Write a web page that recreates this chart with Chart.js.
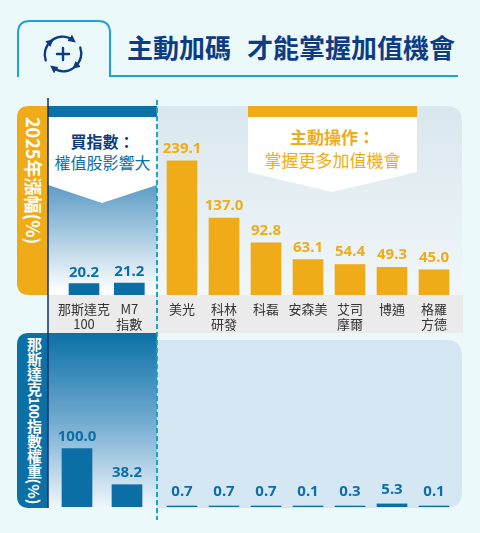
<!DOCTYPE html>
<html>
<head>
<meta charset="utf-8">
<script src="https://cdn.jsdelivr.net/npm/chart.js@4.4.1/dist/chart.umd.min.js"></script>
<style>
  html, body { margin: 0; padding: 0; }
  body { width: 480px; height: 533px; position: relative; overflow: hidden; background: #ecf9fa;
         font-family: "Noto Sans CJK TC", "Noto Sans", sans-serif; }
  .abs { position: absolute; }
  .box { position: absolute; }
  #title { left: 127px; top: 32px; font-size: 26px; font-weight: bold; color: #0d3c84; line-height: 30px; white-space: nowrap; }
  #title span + span { margin-left: 16px; }
  .note { text-align: center; line-height: 21px; white-space: nowrap; }
  #noteL { left: 48px; width: 109px; top: 131px; color: #0b6fa5; font-size: 16px; }
  #noteR { left: 248px; width: 169px; top: 125px; color: #f0ac18; font-size: 17px; line-height: 23px; }
  .note b { display: block; }
  #ylabTop { left: 44px; top: 117px; color: #fff; font-weight: bold; font-size: 18px; white-space: nowrap;
             transform-origin: 0 0; transform: rotate(90deg); line-height: 20px; }
  #ylabBot { left: 24px; top: 337px; color: #fff; font-weight: bold; font-size: 15px; line-height: 20px;
             writing-mode: vertical-rl; text-orientation: mixed; white-space: nowrap; }
  #ylabBot i { font-style: normal; font-size: 13px; letter-spacing: -0.5px; }
</style>
</head>
<body>
<svg class="abs" style="left:0;top:0" width="480" height="533" viewBox="0 0 480 533">
  <defs>
    <linearGradient id="gTopL" gradientUnits="userSpaceOnUse" x1="0" y1="180" x2="0" y2="292">
      <stop offset="0" stop-color="#5597c3"/>
      <stop offset="1" stop-color="#ffffff"/>
    </linearGradient>
    <linearGradient id="gTopR" x1="0" y1="0" x2="0" y2="1">
      <stop offset="0" stop-color="#d9e7ee"/>
      <stop offset="1" stop-color="#f1f7f9"/>
    </linearGradient>
    <linearGradient id="gBotL" gradientUnits="userSpaceOnUse" x1="0" y1="333" x2="0" y2="510">
      <stop offset="0" stop-color="#0b70a6"/>
      <stop offset="0.5" stop-color="#72abd0"/>
      <stop offset="1" stop-color="#f4f8fb"/>
    </linearGradient>
    <marker id="arr" viewBox="0 0 10 10" refX="5" refY="5" markerWidth="3.2" markerHeight="3.2" orient="auto">
      <path d="M0,0 L10,5 L0,10 Z" fill="#0d3c84"/>
    </marker>
  </defs>
  <!-- header tab -->
  <path d="M18,77 V33 Q18,21 30,21 H98 Q110,21 110,33 V76 H458" fill="none" stroke="#1ea0d9" stroke-width="2"/>
  <g fill="none" stroke="#0d3c84" stroke-width="2.4" stroke-linecap="round">
    <path d="M49.6,42.7 A17,17 0 0 1 72.8,40.1" marker-end="url(#arr)"/>
    <path d="M80.3,47.6 A17,17 0 0 1 75.3,66.3" marker-end="url(#arr)"/>
    <path d="M76.4,65.3 A17,17 0 0 1 53.2,67.9" marker-end="url(#arr)"/>
    <path d="M45.7,60.4 A17,17 0 0 1 50.7,41.7" marker-end="url(#arr)"/>
    <path d="M63,48 V60 M57,54 H69"/>
  </g>
  <!-- top row -->
  <path d="M48,106 H29 Q17,106 17,118 V283 Q17,295 29,295 H48 Z" fill="#f0ac18"/>
  <rect x="48" y="106" width="109" height="11" fill="#0b72a8"/>
  <rect x="48" y="117" width="109" height="178" fill="url(#gTopL)"/>
  <polygon points="48,117 157,117 157,185 102,203 48,185" fill="#ffffff"/>
  <path d="M157,106 H446 Q462,106 462,122 V295 H157 Z" fill="url(#gTopR)"/>
  <rect x="248" y="106" width="169" height="11" fill="#f0ac18"/>
  <polygon points="248,117 417,117 417,172 332,192 248,172" fill="#ffffff"/>
  <rect x="48" y="295" width="415" height="38" fill="#ebebeb"/>
  <!-- bottom row -->
  <path d="M48,333 H29 Q17,333 17,345 V496 Q17,508 29,508 H48 Z" fill="#0a70a6"/>
  <rect x="48" y="333" width="109" height="175" fill="url(#gBotL)"/>
  <path d="M157,340 H446 Q462,340 462,356 V492 Q462,508 446,508 H157 Z" fill="#d6e7f4"/>
  <!-- dividers -->
  <line x1="48" y1="98" x2="48" y2="508" stroke="#0d2f6b" stroke-width="1.5"/>
  <line x1="157" y1="100" x2="157" y2="520" stroke="#1ea0d9" stroke-width="2" stroke-dasharray="5,3"/>
</svg>

<div id="title" class="abs"><span>主動加碼</span><span>才能掌握加值機會</span></div>
<div id="ylabTop" class="abs">2025年漲幅(%)</div>
<div id="ylabBot" class="abs">那斯達克<i>100</i>指數權重(%)</div>
<div id="noteL" class="abs note"><b style="color:#0d3c84">買指數：</b>權值股影響大</div>
<div id="noteR" class="abs note"><b>主動操作：</b>掌握更多加值機會</div>

<div class="box" style="left:52px;top:106px;width:100px;height:227px"><canvas id="topL"></canvas></div>
<div class="box" style="left:161px;top:106px;width:294px;height:227px"><canvas id="topR"></canvas></div>
<div class="box" style="left:52px;top:340px;width:100px;height:167px"><canvas id="botL"></canvas></div>
<div class="box" style="left:161px;top:340px;width:294px;height:167px"><canvas id="botR"></canvas></div>

<script>
// index group (left) and active picks (right)
const indexNames = [['那斯達克', '100'], ['M7', '指數']];
const stockNames = ['美光', ['科林', '研發'], '科磊', '安森美', ['艾司', '摩爾'], '博通', ['格羅', '方德']];

// 2025 gains (%)
const indexGain = [20.2, 21.2];
const stockGain = [239.1, 137.0, 92.8, 63.1, 54.4, 49.3, 45.0];

// weight in Nasdaq 100 (%)
const indexWeight = [100.0, 38.2];
const stockWeight = [0.7, 0.7, 0.7, 0.1, 0.3, 5.3, 0.1];

const ORANGE = '#f0ac18';
const BLUE = '#0b6fa6';

const valueLabels = {
  id: 'valueLabels',
  afterDatasetsDraw(chart, args, opts) {
    const ctx = chart.ctx;
    const meta = chart.getDatasetMeta(0);
    const vals = chart.data.datasets[0].data;
    ctx.save();
    ctx.font = 'bold 15px "Noto Sans", sans-serif';
    ctx.fillStyle = opts.color;
    ctx.textAlign = 'center';
    ctx.textBaseline = 'alphabetic';
    meta.data.forEach(function (bar, i) {
      ctx.fillText(vals[i].toFixed(1), bar.x, bar.y - opts.gap);
    });
    ctx.restore();
  }
};

function makeBars(id, labels, values, color, yMax, showX, labelColor, gap) {
  const xScale = {
    display: showX,
    grid: { display: false, drawTicks: false },
    border: { display: false },
    ticks: {
      color: '#333333', padding: 6, autoSkip: false, maxRotation: 0,
      font: { family: '"Noto Sans CJK TC", sans-serif', size: 13, lineHeight: 1.18 }
    }
  };
  if (showX) xScale.afterFit = function (s) { s.height = 38; };

  new Chart(document.getElementById(id), {
    type: 'bar',
    data: {
      labels: labels,
      datasets: [{ data: values, backgroundColor: color, barThickness: 30, minBarLength: 1 }]
    },
    plugins: [valueLabels],
    options: {
      responsive: true,
      maintainAspectRatio: false,
      animation: false,
      layout: { padding: 0 },
      plugins: {
        legend: { display: false },
        tooltip: { enabled: false },
        valueLabels: { color: labelColor, gap: gap }
      },
      scales: {
        x: xScale,
        y: { display: false, min: 0, max: yMax }
      }
    }
  });
}

makeBars('topL', indexNames, indexGain, BLUE, 337, true, BLUE, 7);
makeBars('topR', stockNames, stockGain, ORANGE, 337, true, ORANGE, 8);
makeBars('botL', indexNames, indexWeight, BLUE, 286, false, BLUE, 8);
makeBars('botR', stockNames, stockWeight, BLUE, 286, false, BLUE, 10);
</script>
</body>
</html>
